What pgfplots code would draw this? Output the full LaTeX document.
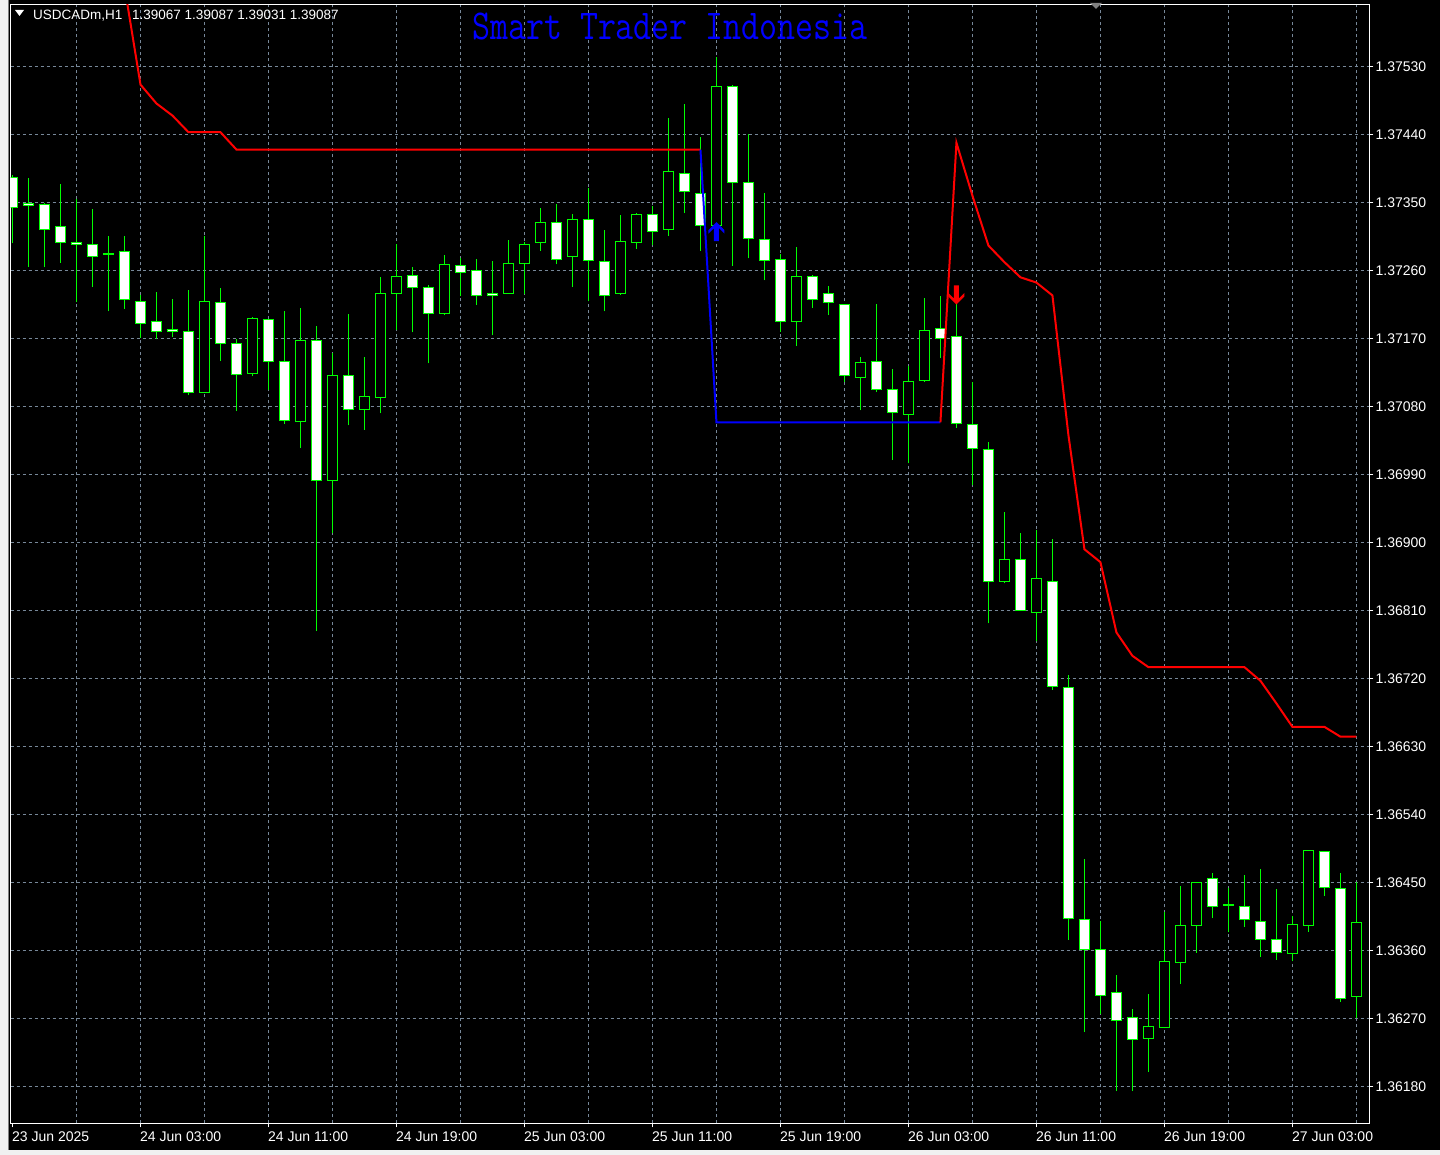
\documentclass[border=0pt]{standalone}
\usepackage{fontspec}
\setmainfont{Liberation Sans}
\usepackage{graphicx}
\usepackage{pgfplots}
\usepackage{pgfplotstable}
\pgfplotsset{compat=1.18}
\definecolor{cgreen}{RGB}{0,255,0}
\definecolor{cgrid}{RGB}{119,136,153}
\definecolor{panel}{RGB}{240,240,240}

\pgfdeclareplotmark{nomark}{}
\pgfdeclareplotmark{buyarrow}{%
  \pgfpathmoveto{\pgfqpoint{0pt}{0pt}}%
  \pgfpathlineto{\pgfqpoint{8pt}{-8pt}}%
  \pgfpathlineto{\pgfqpoint{8pt}{-11.5pt}}%
  \pgfpathlineto{\pgfqpoint{2.5pt}{-6pt}}%
  \pgfpathlineto{\pgfqpoint{2.5pt}{-19pt}}%
  \pgfpathlineto{\pgfqpoint{-2.5pt}{-19pt}}%
  \pgfpathlineto{\pgfqpoint{-2.5pt}{-6pt}}%
  \pgfpathlineto{\pgfqpoint{-8pt}{-11.5pt}}%
  \pgfpathlineto{\pgfqpoint{-8pt}{-8pt}}%
  \pgfpathclose\pgfusepathqfill}
\pgfdeclareplotmark{sellarrow}{%
  \pgfpathmoveto{\pgfqpoint{0pt}{0pt}}%
  \pgfpathlineto{\pgfqpoint{8pt}{8pt}}%
  \pgfpathlineto{\pgfqpoint{8pt}{11.5pt}}%
  \pgfpathlineto{\pgfqpoint{2.5pt}{6pt}}%
  \pgfpathlineto{\pgfqpoint{2.5pt}{19pt}}%
  \pgfpathlineto{\pgfqpoint{-2.5pt}{19pt}}%
  \pgfpathlineto{\pgfqpoint{-2.5pt}{6pt}}%
  \pgfpathlineto{\pgfqpoint{-8pt}{11.5pt}}%
  \pgfpathlineto{\pgfqpoint{-8pt}{8pt}}%
  \pgfpathclose\pgfusepathqfill}

\pgfplotstableread{
i O H L C
0 1.37383 1.37387 1.37296 1.37343
1 1.37349 1.37382 1.37265 1.37346
2 1.37347 1.37349 1.37264 1.37314
3 1.37318 1.37374 1.37270 1.37297
4 1.37297 1.37355 1.37218 1.37295
5 1.37294 1.37342 1.37238 1.37279
6 1.37283 1.37305 1.37206 1.37281
7 1.37285 1.37306 1.37209 1.37221
8 1.37219 1.37228 1.37171 1.37190
9 1.37192 1.37231 1.37169 1.37179
10 1.37182 1.37222 1.37172 1.37179
11 1.37179 1.37234 1.37095 1.37098
12 1.37099 1.37305 1.37098 1.37219
13 1.37217 1.37237 1.37140 1.37163
14 1.37164 1.37169 1.37074 1.37122
15 1.37124 1.37199 1.37120 1.37196
16 1.37195 1.37196 1.37102 1.37139
17 1.37140 1.37207 1.37057 1.37061
18 1.37060 1.37211 1.37025 1.37167
19 1.37168 1.37186 1.36783 1.36982
20 1.36982 1.37151 1.36912 1.37121
21 1.37121 1.37202 1.37055 1.37076
22 1.37076 1.37146 1.37049 1.37093
23 1.37092 1.37251 1.37071 1.37230
24 1.37230 1.37295 1.37181 1.37252
25 1.37253 1.37265 1.37178 1.37238
26 1.37238 1.37241 1.37137 1.37203
27 1.37203 1.37281 1.37201 1.37268
28 1.37266 1.37277 1.37226 1.37257
29 1.37260 1.37275 1.37214 1.37227
30 1.37229 1.37272 1.37174 1.37227
31 1.37230 1.37301 1.37229 1.37269
32 1.37269 1.37298 1.37229 1.37295
33 1.37297 1.37343 1.37286 1.37323
34 1.37324 1.37348 1.37268 1.37275
35 1.37278 1.37335 1.37238 1.37327
36 1.37327 1.37369 1.37219 1.37273
37 1.37272 1.37314 1.37206 1.37227
38 1.37229 1.37334 1.37228 1.37298
39 1.37297 1.37336 1.37289 1.37334
40 1.37334 1.37346 1.37294 1.37311
41 1.37314 1.37462 1.37306 1.37391
42 1.37389 1.37481 1.37336 1.37365
43 1.37362 1.37437 1.37286 1.37320
44 1.37319 1.37542 1.37318 1.37503
45 1.37504 1.37505 1.37266 1.37376
46 1.37377 1.37441 1.37276 1.37302
47 1.37301 1.37362 1.37247 1.37273
48 1.37274 1.37282 1.37179 1.37192
49 1.37193 1.37291 1.37160 1.37252
50 1.37252 1.37254 1.37211 1.37221
51 1.37230 1.37240 1.37201 1.37217
52 1.37215 1.37216 1.37112 1.37121
53 1.37118 1.37146 1.37075 1.37138
54 1.37139 1.37216 1.37099 1.37103
55 1.37102 1.37129 1.37009 1.37072
56 1.37069 1.37134 1.37005 1.37113
57 1.37114 1.37223 1.37113 1.37180
58 1.37183 1.37226 1.37144 1.37170
59 1.37172 1.37215 1.37052 1.37057
60 1.37056 1.37113 1.36976 1.37024
61 1.37023 1.37033 1.36793 1.36848
62 1.36848 1.36941 1.36846 1.36877
63 1.36878 1.36912 1.36809 1.36810
64 1.36808 1.36917 1.36769 1.36852
65 1.36849 1.36904 1.36705 1.36709
66 1.36708 1.36724 1.36374 1.36402
67 1.36401 1.36481 1.36252 1.36361
68 1.36361 1.36399 1.36276 1.36301
69 1.36304 1.36328 1.36174 1.36268
70 1.36271 1.36283 1.36174 1.36242
71 1.36244 1.36303 1.36199 1.36259
72 1.36258 1.36411 1.36257 1.36345
73 1.36344 1.36446 1.36316 1.36393
74 1.36393 1.36451 1.36357 1.36450
75 1.36455 1.36463 1.36403 1.36418
76 1.36421 1.36443 1.36384 1.36419
77 1.36418 1.36460 1.36391 1.36401
78 1.36399 1.36468 1.36352 1.36375
79 1.36374 1.36442 1.36348 1.36357
80 1.36356 1.36406 1.36346 1.36394
81 1.36393 1.36493 1.36385 1.36492
82 1.36491 1.36492 1.36432 1.36443
83 1.36442 1.36463 1.36292 1.36297
84 1.36299 1.36451 1.36270 1.36397
}\candles

\pgfplotstableread{
i v
7 1.37636
8 1.37506
9 1.37481
10 1.37465
11 1.37443
12 1.37443
13 1.37443
14 1.37420
43 1.37420
}\redA

\pgfplotstableread{
i v
43 1.37420
44 1.37059
58 1.37059
}\blueA

\pgfplotstableread{
i v
58 1.37059
59 1.37429
60 1.37359
61 1.37293
62 1.37271
63 1.37251
64 1.37244
65 1.37227
66 1.37042
67 1.36891
68 1.36874
69 1.36781
70 1.36750
71 1.36735
77 1.36735
78 1.36717
79 1.36687
80 1.36656
82 1.36656
83 1.36643
84 1.36643
}\redB

\begin{document}
\begin{tikzpicture}[x=1pt,y=1pt]
\path[use as bounding box] (0,0) rectangle (1440,1155);
\fill[black] (0,0) rectangle (1440,1155);
\fill[panel] (0,0) rectangle (8,1155);
\fill[panel] (0,0) rectangle (1440,5);
\draw[gray, line width=1pt] (8.5,5) -- (8.5,1155);
\begin{axis}[
  at={(10.5pt,31.5pt)}, anchor=south west, scale only axis,
  width=1359pt, height=1119pt,
  xmin=-0.125, xmax=84.8125, ymin=1.3613103, ymax=1.3761206,
  axis background/.style={fill=black},
  axis line style={white, line width=1pt},
  clip marker paths=true,
  tick align=outside, major tick length=4pt, minor tick length=0pt,
  tick style={white, line width=1pt},
  xtick pos=bottom, ytick pos=right, yticklabel pos=right,
  xtick={8,16,...,80},
  xticklabels={24 Jun 03:00,24 Jun 11:00,24 Jun 19:00,25 Jun 03:00,25 Jun 11:00,25 Jun 19:00,26 Jun 03:00,26 Jun 11:00,26 Jun 19:00,27 Jun 03:00},
  extra x ticks={0}, extra x tick labels={23 Jun 2025},
  extra x tick style={grid=none},
  minor xtick={4,12,...,84},
  ytick={1.3618,1.3627,1.3636,1.3645,1.3654,1.3663,1.3672,1.3681,1.3690,1.3699,1.3708,1.3717,1.3726,1.3735,1.3744,1.3753},
  yticklabels={1.36180,1.36270,1.36360,1.36450,1.36540,1.36630,1.36720,1.36810,1.36900,1.36990,1.37080,1.37170,1.37260,1.37350,1.37440,1.37530},
  xmajorgrids, xminorgrids, ymajorgrids,
  grid style={cgrid, dash pattern=on 3pt off 3pt, line width=1pt},
  minor grid style={cgrid, dash pattern=on 3pt off 3pt, line width=1pt},
  ticklabel style={font=\fontsize{14}{14}\selectfont, text=white},
  xticklabel style={anchor=north west, inner sep=0pt, yshift=-4pt, xshift=-0.5pt},
  yticklabel style={anchor=west, inner sep=0pt, xshift=2pt},
]
% candles: wick and body, offsets from the close in canvas points (68 pt per 0.0009)
\addplot [scatter, only marks, mark=nomark, forget plot,
  visualization depends on={(\thisrow{O}-\thisrow{C})*75555.556 \as \dO},
  visualization depends on={(\thisrow{H}-\thisrow{C})*75555.556 \as \dH},
  visualization depends on={(\thisrow{L}-\thisrow{C})*75555.556 \as \dL},
  scatter/@pre marker code/.code={%
    \pgfkeys{/pgf/fpu=false}%
    \pgfmathsetmacro\hO{\dO}\pgfmathsetmacro\hH{\dH}\pgfmathsetmacro\hL{\dL}%
    \ifdim\hO pt<0pt\def\bodyfill{black}\else\def\bodyfill{white}\fi
    \path[draw=cgreen, line width=1pt] (0pt,\hL pt) -- (0pt,\hH pt);
    \path[draw=cgreen, line width=1pt, fill=\bodyfill] (-5pt,0pt) rectangle (5pt,\hO pt);
  },
  scatter/@post marker code/.code={}]
  table [x=i, y=C] {\candles};
% indicator lines
\addplot [red, line width=2pt, mark=none] table [x=i, y=v] {\redA};
\addplot [blue, line width=2pt, mark=none] table [x=i, y=v] {\blueA};
\addplot [red, line width=2pt, mark=none] table [x=i, y=v] {\redB};
% signals
\addplot [only marks, mark=buyarrow, blue, mark options={fill=blue}] coordinates {(44,1.37324)};
\addplot [only marks, mark=sellarrow, red, mark options={fill=red}] coordinates {(59,1.37215)};
\end{axis}
\fill[white] (15,1145) -- (24,1145) -- (19.5,1139) -- cycle;
\fill[gray] (1090,1152) -- (1102,1152) -- (1096,1146) -- cycle;
\node[anchor=base west, inner sep=0pt, text=white] at (33,1135)
  {\fontsize{13.5}{14}\selectfont USDCADm,H1\hspace{6pt} 1.39067 1.39087 1.39031 1.39087};
\node[anchor=base west, inner sep=0pt, text=blue] at (472,1115)
  {\scalebox{1}[1.22]{\ttfamily\fontsize{34.9}{34}\selectfont Smart Trader Indonesia}};
\end{tikzpicture}
\end{document}
